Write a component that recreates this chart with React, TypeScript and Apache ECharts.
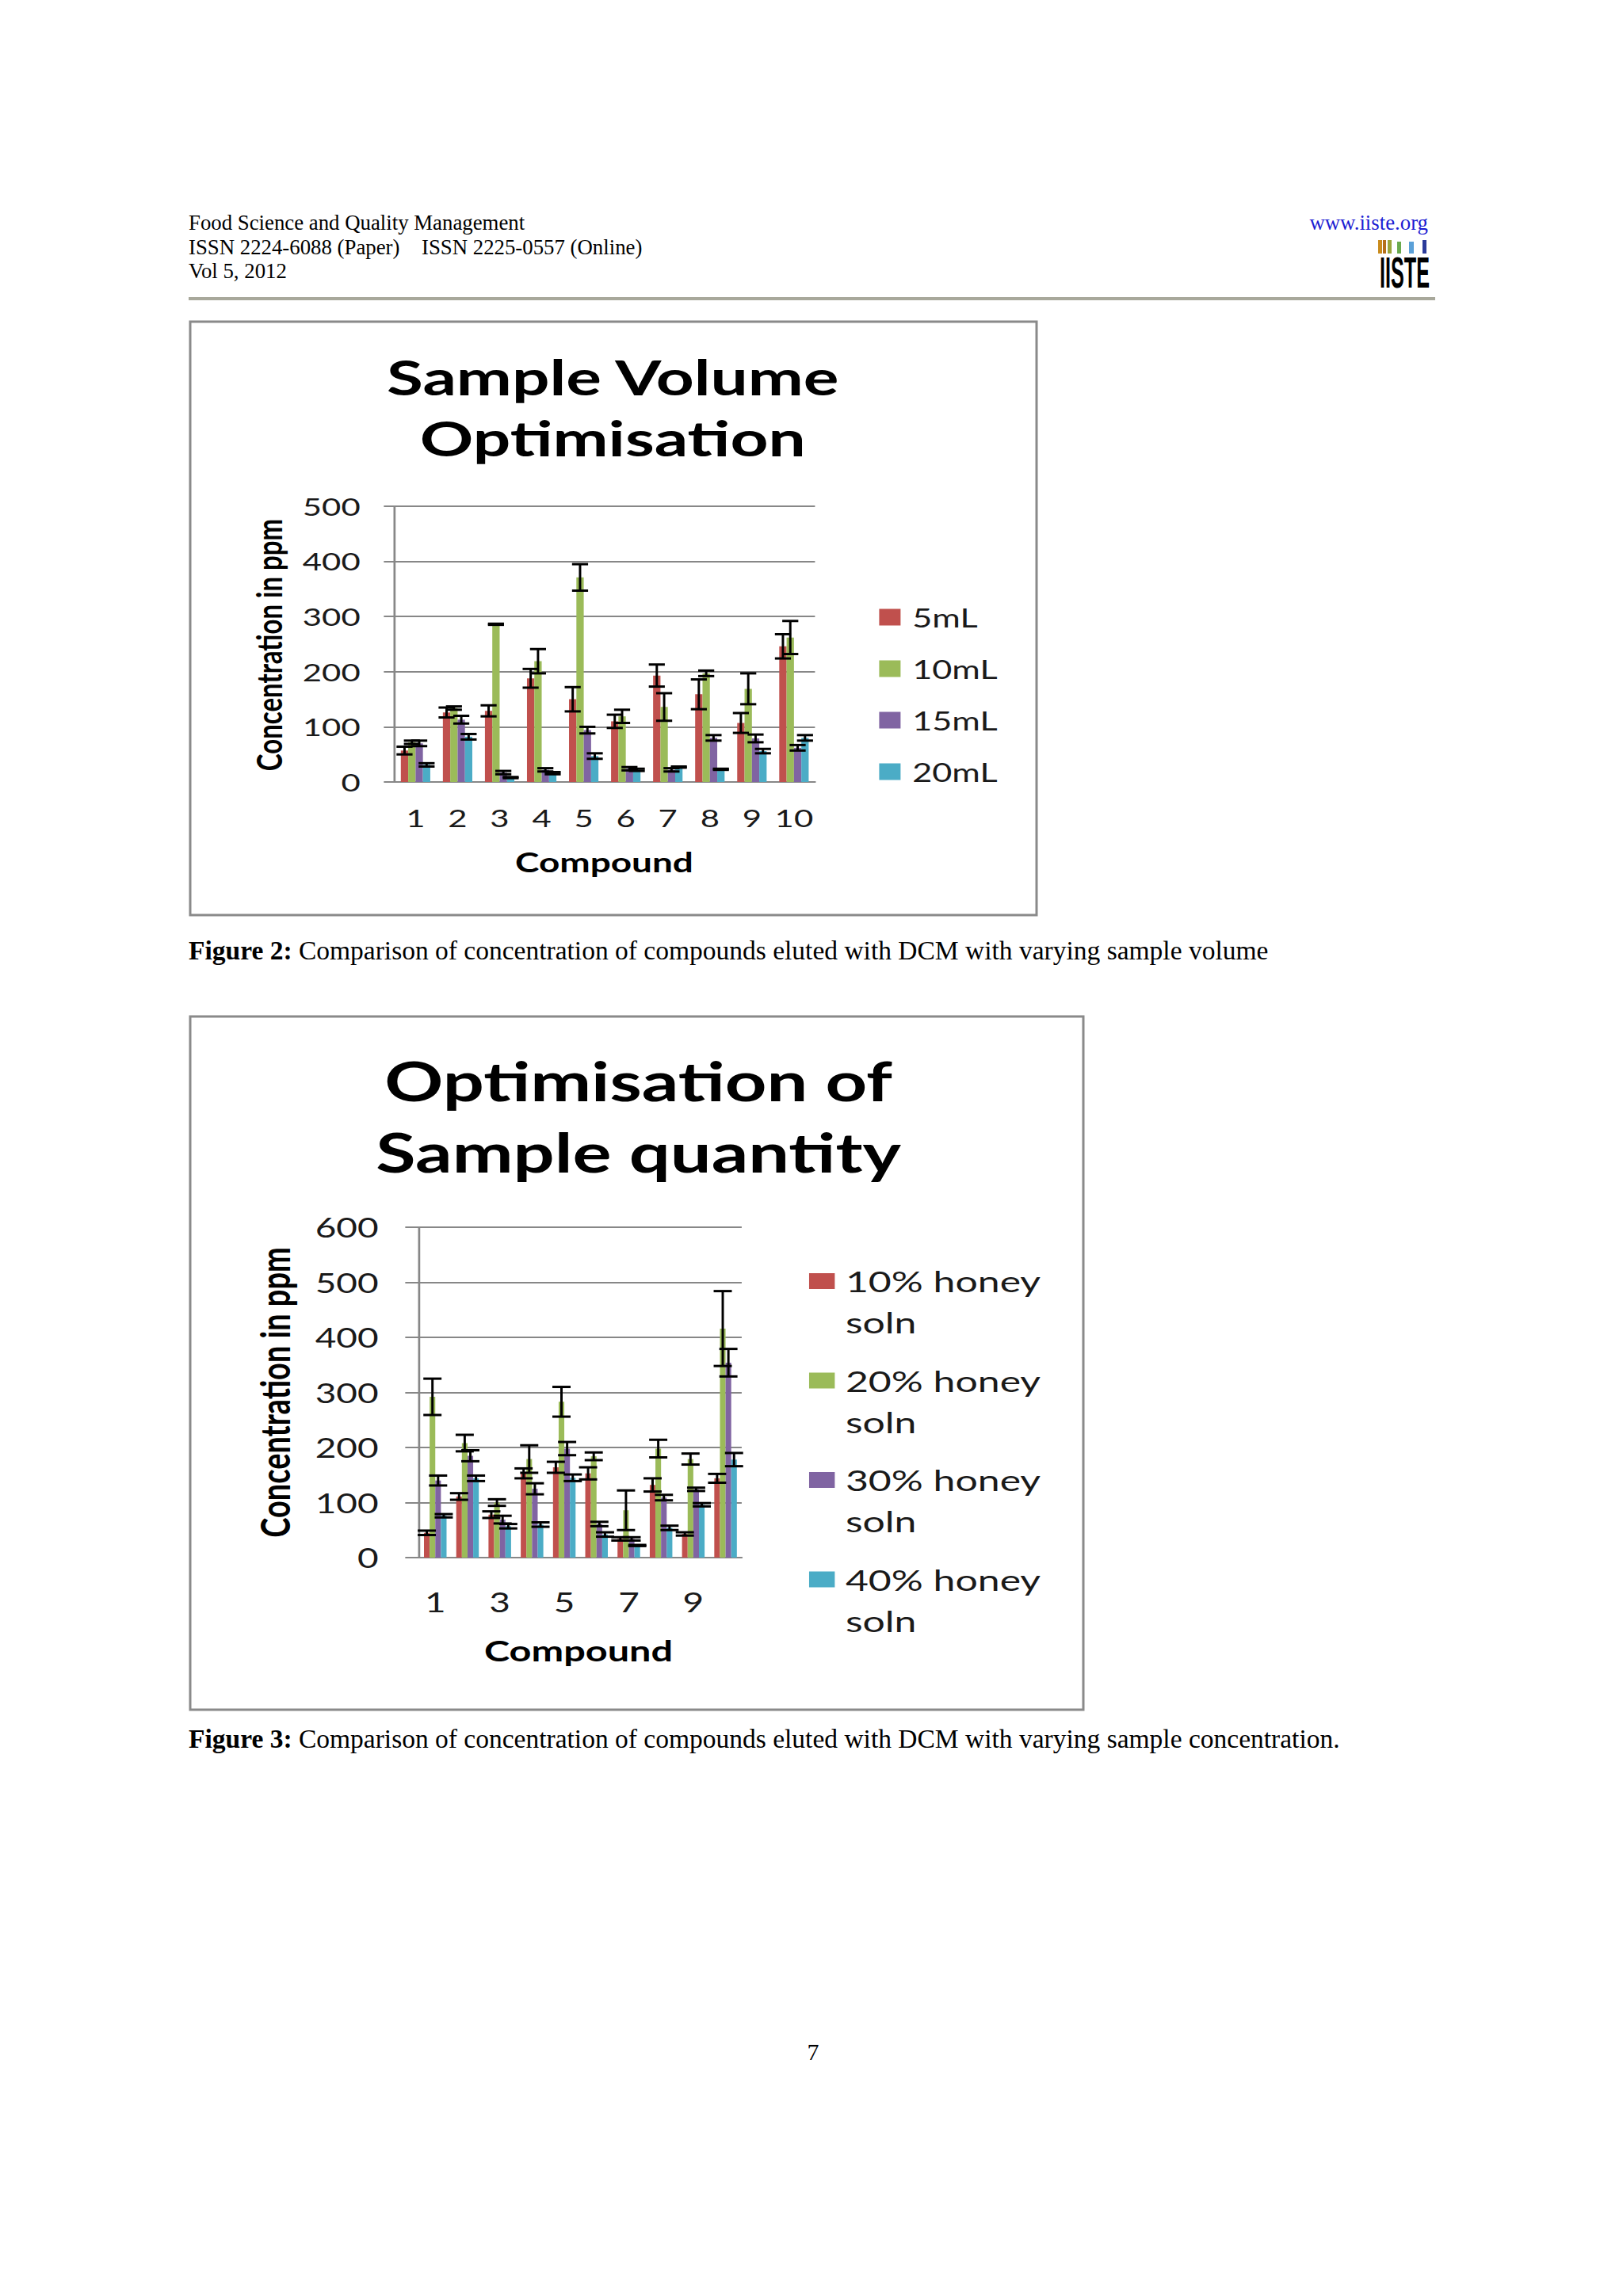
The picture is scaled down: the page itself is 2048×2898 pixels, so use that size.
import React, { useEffect, useRef } from "react";
import * as echarts from "echarts";

// Horizontal stretch of the embedded chart pictures in the reference page
const STRETCH = 1.35;

// ---------------- Figure 2 data ----------------
const compounds = ["1", "2", "3", "4", "5", "6", "7", "8", "9", "10"];
const volumeNames = ["5mL", "10mL", "15mL", "20mL"];
const vol5mL = [57, 126, 129, 188, 150, 110, 193, 159, 107, 246];
const vol10mL = [72, 134, 286, 219, 371, 119, 136, 197, 169, 262];
const vol15mL = [70, 113, 17, 22, 94, 24, 22, 80, 79, 62];
const vol20mL = [31, 82, 8, 16, 47, 22, 27, 23, 56, 80];
const vol5mLErr = [7, 9, 10, 17, 22, 12, 20, 27, 18, 22];
const vol10mLErr = [3, 3, 1, 22, 24, 12, 25, 5, 28, 30];
const vol15mLErr = [5, 7, 3, 3, 6, 3, 3, 5, 7, 5];
const vol20mLErr = [3, 5, 1, 2, 5, 2, 1, 1, 4, 5];
const volumeTicks = [0, 100, 200, 300, 400, 500];

// ---------------- Figure 3 data ----------------
const honeyNames = ["10% honey soln", "20% honey soln", "30% honey soln", "40% honey soln"];
const honey10 = [45, 111, 78, 153, 164, 153, 34, 132, 43, 144];
const honey20 = [292, 208, 100, 179, 283, 184, 86, 198, 179, 416];
const honey30 = [140, 185, 69, 125, 198, 61, 34, 109, 124, 354];
const honey40 = [76, 144, 57, 60, 145, 42, 22, 54, 96, 178];
const honey10Err = [4, 6, 6, 9, 10, 11, 3, 12, 3, 8];
const honey20Err = [33, 15, 6, 25, 27, 7, 36, 16, 10, 68];
const honey30Err = [9, 10, 7, 10, 12, 4, 3, 5, 3, 25];
const honey40Err = [3, 5, 4, 4, 6, 4, 1, 4, 3, 12];
const quantityTicks = [0, 100, 200, 300, 400, 500, 600];

const seriesColors = ["#C0504D", "#9BBB59", "#8064A2", "#4BACC6"];
const GRID_COLOR = "#878787";
const CAT_GAP = 0.3;

function errorSeries(name: string, values: number[], errs: number[], idx: number, n: number, capW: number) {
  return {
    type: "custom",
    name: name + " error",
    silent: true,
    z: 5,
    data: values.map((v, i) => [i, v, errs[i]]),
    encode: { x: 0, y: 1 },
    renderItem: (params: any, api: any) => {
      const ci = api.value(0);
      const v = api.value(1);
      const e = api.value(2);
      const band = api.size([1, 0])[0];
      const groupW = band * (1 - CAT_GAP);
      const bw = groupW / n;
      const base = api.coord([ci, v]);
      const cx = base[0] - groupW / 2 + (idx + 0.5) * bw;
      const yTop = api.coord([ci, v + e])[1];
      const yBot = api.coord([ci, v - e])[1];
      const h = capW / 2;
      return {
        type: "group",
        children: [
          { type: "line", shape: { x1: cx, y1: yTop, x2: cx, y2: yBot }, style: { stroke: "#000", lineWidth: 2.2 } },
          { type: "line", shape: { x1: cx - h, y1: yTop, x2: cx + h, y2: yTop }, style: { stroke: "#000", lineWidth: 3 } },
          { type: "line", shape: { x1: cx - h, y1: yBot, x2: cx + h, y2: yBot }, style: { stroke: "#000", lineWidth: 3 } },
        ],
      };
    },
  };
}

function buildChart(cfg: any) {
  const bars = cfg.names.map((nm: string, i: number) => ({
    type: "bar",
    name: nm,
    data: cfg.values[i],
    itemStyle: { color: seriesColors[i] },
    barGap: "0%",
    barCategoryGap: CAT_GAP * 100 + "%",
    z: 2,
  }));
  const errs = cfg.names.map((nm: string, i: number) =>
    errorSeries(nm, cfg.values[i], cfg.errors[i], i, cfg.names.length, cfg.capW)
  );
  const ticks = cfg.ticks;
  return {
    animation: false,
    title: {
      text: cfg.title,
      left: cfg.titleX,
      top: cfg.titleTop,
      textAlign: "center",
      padding: 0,
      textStyle: {
        fontFamily: "Lato",
        fontWeight: "bold",
        fontSize: cfg.titleSize,
        lineHeight: cfg.titleLH,
        color: "#000",
      },
    },
    grid: cfg.grid,
    legend: {
      orient: "vertical",
      left: cfg.legend.left,
      top: cfg.legend.top,
      padding: 0,
      itemWidth: cfg.legend.itemWidth,
      itemHeight: cfg.legend.itemHeight,
      itemGap: cfg.legend.itemGap,
      icon: cfg.legend.icon,
      itemStyle: { borderWidth: 0 },
      selectedMode: false,
      formatter: cfg.legend.formatter,
      textStyle: {
        fontFamily: "Lato",
        fontSize: cfg.legend.fontSize,
        lineHeight: cfg.legend.lineHeight,
        color: "#1a1a1a",
        padding: [0, 0, 0, cfg.legend.textPad],
      },
      data: cfg.names,
    },
    xAxis: {
      type: "category",
      data: compounds,
      axisLine: { show: true, lineStyle: { color: GRID_COLOR, width: 2 } },
      axisTick: { show: false },
      axisLabel: {
        interval: cfg.xInterval,
        margin: cfg.xMargin,
        fontFamily: "Lato",
        fontSize: cfg.xFont,
        color: "#1a1a1a",
      },
    },
    yAxis: {
      type: "value",
      min: ticks[0],
      max: ticks[ticks.length - 1],
      interval: ticks[1] - ticks[0],
      axisLine: { show: true, lineStyle: { color: GRID_COLOR, width: 2 } },
      axisTick: { show: true, length: cfg.tickLen, lineStyle: { color: GRID_COLOR, width: 2 } },
      splitLine: { show: true, lineStyle: { color: GRID_COLOR, width: 2 } },
      axisLabel: {
        margin: cfg.yMargin,
        fontFamily: "Lato",
        fontSize: cfg.yFont,
        color: "#1a1a1a",
      },
    },
    graphic: {
      elements: [
        {
          type: "text",
          x: cfg.yTitle.x,
          y: cfg.yTitle.y,
          rotation: Math.PI / 2,
          style: {
            text: "Concentration in ppm",
            fontFamily: "Lato",
            fontWeight: "bold",
            fontSize: cfg.yTitle.size,
            fill: "#000",
            align: "center",
            verticalAlign: "middle",
          },
        },
        {
          type: "text",
          x: cfg.xTitle.x,
          y: cfg.xTitle.y,
          style: {
            text: "Compound",
            fontFamily: "Lato",
            fontWeight: "bold",
            fontSize: cfg.xTitle.size,
            fill: "#000",
            align: "center",
            verticalAlign: "middle",
          },
        },
      ],
    },
    series: [...bars, ...errs],
  };
}

const volumeOption = buildChart({
  title: "Sample Volume\nOptimisation",
  titleX: 395,
  titleTop: 31,
  titleSize: 62,
  titleLH: 77,
  names: volumeNames,
  values: [vol5mL, vol10mL, vol15mL, vol20mL],
  errors: [vol5mLErr, vol10mLErr, vol15mLErr, vol20mLErr],
  ticks: volumeTicks,
  capW: 15,
  grid: { left: 191, top: 233, width: 393, height: 348 },
  xInterval: 0,
  xMargin: 30,
  xFont: 31,
  yMargin: 32,
  yFont: 31,
  tickLen: 10,
  yTitle: { x: 73, y: 408, size: 33 },
  xTitle: { x: 387, y: 682, size: 34 },
  legend: {
    left: 644,
    top: 357,
    itemWidth: 20,
    itemHeight: 21,
    itemGap: 33,
    icon: "rect",
    fontSize: 32,
    lineHeight: 21,
    textPad: 6,
    formatter: (n: string) => n,
  },
});

const quantityOption = buildChart({
  title: "Optimisation of\nSample quantity",
  titleX: 419,
  titleTop: 35,
  titleSize: 68,
  titleLH: 90,
  names: honeyNames,
  values: [honey10, honey20, honey30, honey40],
  errors: [honey10Err, honey20Err, honey30Err, honey40Err],
  ticks: quantityTicks,
  capW: 17,
  grid: { left: 214, top: 266, width: 301.5, height: 417 },
  xInterval: 1,
  xMargin: 39,
  xFont: 34,
  yMargin: 38,
  yFont: 34,
  tickLen: 13,
  yTitle: { x: 78.5, y: 474.5, size: 38 },
  xTitle: { x: 363, y: 800, size: 36 },
  legend: {
    left: 578.5,
    top: 308,
    itemWidth: 24,
    itemHeight: 104,
    itemGap: 21.5,
    icon: "path://M0,0L0.01,0Z M0,16L24,16L24,36L0,36Z M0,104L0.01,104Z",
    fontSize: 37,
    lineHeight: 52,
    textPad: 5,
    formatter: (n: string) => n.replace(" soln", "\nsoln"),
  },
});

const SERIF = "Liberation Serif";
const HEAD = 26.8;
const CAP = 33.5;

function pageText(text: string, x: number, y: number, size: number, extra: any = {}) {
  return {
    type: "text",
    x,
    y,
    style: {
      text,
      fontFamily: SERIF,
      fontSize: size,
      fill: "#000",
      align: "left",
      verticalAlign: "middle",
      ...extra,
    },
  };
}

const pageOption = {
  animation: false,
  graphic: {
    elements: [
      pageText("Food Science and Quality Management", 238, 281, HEAD),
      pageText("ISSN 2224-6088 (Paper)", 238, 312, HEAD),
      pageText("ISSN 2225-0557 (Online)", 532, 312, HEAD),
      pageText("Vol 5, 2012", 238, 342, HEAD),
      pageText("www.iiste.org", 1802, 281, HEAD, { fill: "#1c1cd2", align: "right" }),
      // logo
      { type: "rect", shape: { x: 1739, y: 303, width: 5, height: 17 }, style: { fill: "#c98b1c" } },
      { type: "rect", shape: { x: 1745, y: 303, width: 4, height: 17 }, style: { fill: "#b5701a" } },
      { type: "rect", shape: { x: 1751, y: 303, width: 5, height: 17 }, style: { fill: "#9aa53a" } },
      { type: "rect", shape: { x: 1763, y: 305, width: 5, height: 15 }, style: { fill: "#6aaa4e" } },
      { type: "rect", shape: { x: 1778, y: 305, width: 6, height: 15 }, style: { fill: "#5aa0d8" } },
      { type: "rect", shape: { x: 1795, y: 303, width: 5, height: 17 }, style: { fill: "#2b3b9a" } },
      {
        type: "text",
        x: 1741,
        y: 344,
        scaleX: 0.45,
        style: {
          text: "IISTE",
          fontFamily: "Liberation Sans",
          fontWeight: "bold",
          fontSize: 56,
          fill: "#000",
          align: "left",
          verticalAlign: "middle",
        },
      },
      // header rule
      { type: "rect", shape: { x: 238, y: 375, width: 1573, height: 4 }, style: { fill: "#a8a89b" } },
      // frames
      {
        type: "rect",
        shape: { x: 240, y: 406, width: 1068, height: 749 },
        style: { fill: "none", stroke: "#8a8a8a", lineWidth: 3 },
      },
      {
        type: "rect",
        shape: { x: 240, y: 1283, width: 1127, height: 875 },
        style: { fill: "none", stroke: "#8a8a8a", lineWidth: 3 },
      },
      // captions
      pageText(
        "{b|Figure 2:} Comparison of concentration of compounds eluted with DCM with varying sample volume",
        238,
        1199,
        CAP,
        { rich: { b: { fontFamily: SERIF, fontWeight: "bold", fontSize: CAP, fill: "#000" } } }
      ),
      pageText(
        "{b|Figure 3:} Comparison of concentration of compounds eluted with DCM with varying sample concentration.",
        238,
        2194,
        CAP,
        { rich: { b: { fontFamily: SERIF, fontWeight: "bold", fontSize: CAP, fill: "#000" } } }
      ),
      pageText("7", 1026, 2589, 30, { align: "center" }),
    ],
  },
};

function EChart({ option, style }: { option: any; style: React.CSSProperties }) {
  const ref = useRef<HTMLDivElement>(null);
  useEffect(() => {
    const chart = echarts.init(ref.current as HTMLDivElement, null, { renderer: "svg" });
    chart.setOption(option);
    return () => chart.dispose();
  }, [option]);
  return <div ref={ref} style={style} />;
}

export default function App() {
  return (
    <div
      style={{
        position: "absolute",
        left: 0,
        top: 0,
        width: 2048,
        height: 2898,
        background: "#ffffff",
        overflow: "hidden",
      }}
    >
      <EChart option={pageOption} style={{ position: "absolute", left: 0, top: 0, width: 2048, height: 2898 }} />
      <EChart
        option={volumeOption}
        style={{
          position: "absolute",
          left: 240,
          top: 406,
          width: 1068 / STRETCH,
          height: 749,
          transform: `scaleX(${STRETCH})`,
          transformOrigin: "0 0",
        }}
      />
      <EChart
        option={quantityOption}
        style={{
          position: "absolute",
          left: 240,
          top: 1283,
          width: 1127 / STRETCH,
          height: 875,
          transform: `scaleX(${STRETCH})`,
          transformOrigin: "0 0",
        }}
      />
    </div>
  );
}
